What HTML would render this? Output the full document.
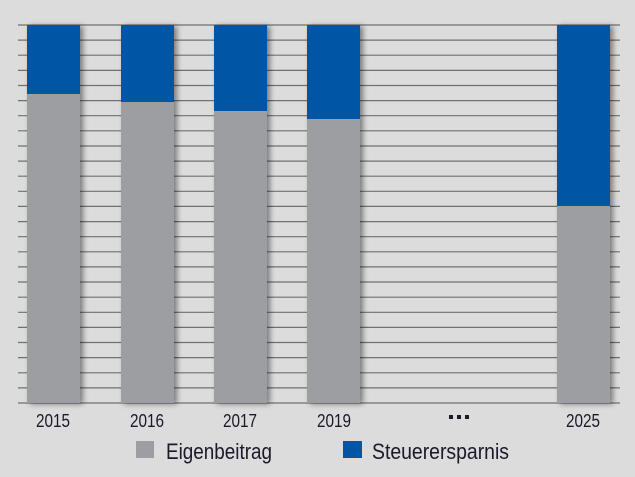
<!DOCTYPE html>
<html><head><meta charset="utf-8"><style>
body{margin:0;width:635px;height:477px;background:#dcdcdc;overflow:hidden}
svg{display:block}
text{font-family:"Liberation Sans Narrow","Liberation Sans",sans-serif;fill:#1a1a2a}
</style></head><body>
<svg width="635" height="477" viewBox="0 0 635 477">
<defs><filter id="s" x="-30%" y="-10%" width="160%" height="120%"><feGaussianBlur in="SourceAlpha" stdDeviation="3"/><feOffset dx="3" dy="1"/><feComponentTransfer><feFuncA type="linear" slope="0.45"/></feComponentTransfer><feMerge><feMergeNode/><feMergeNode in="SourceGraphic"/></feMerge></filter></defs>
<rect width="635" height="477" fill="#dcdcdc"/>
<g stroke="#707070" stroke-width="1.2">
<line x1="18" x2="620" y1="25" y2="25"/><line x1="18" x2="620" y1="40.1" y2="40.1"/><line x1="18" x2="620" y1="55.2" y2="55.2"/><line x1="18" x2="620" y1="70.4" y2="70.4"/><line x1="18" x2="620" y1="85.5" y2="85.5"/><line x1="18" x2="620" y1="100.6" y2="100.6"/><line x1="18" x2="620" y1="115.7" y2="115.7"/><line x1="18" x2="620" y1="130.8" y2="130.8"/><line x1="18" x2="620" y1="146" y2="146"/><line x1="18" x2="620" y1="161.1" y2="161.1"/><line x1="18" x2="620" y1="176.2" y2="176.2"/><line x1="18" x2="620" y1="191.3" y2="191.3"/><line x1="18" x2="620" y1="206.4" y2="206.4"/><line x1="18" x2="620" y1="221.6" y2="221.6"/><line x1="18" x2="620" y1="236.7" y2="236.7"/><line x1="18" x2="620" y1="251.8" y2="251.8"/><line x1="18" x2="620" y1="266.9" y2="266.9"/><line x1="18" x2="620" y1="282" y2="282"/><line x1="18" x2="620" y1="297.2" y2="297.2"/><line x1="18" x2="620" y1="312.3" y2="312.3"/><line x1="18" x2="620" y1="327.4" y2="327.4"/><line x1="18" x2="620" y1="342.5" y2="342.5"/><line x1="18" x2="620" y1="357.6" y2="357.6"/><line x1="18" x2="620" y1="372.8" y2="372.8"/><line x1="18" x2="620" y1="387.9" y2="387.9"/><line x1="18" x2="620" y1="403" y2="403"/>
</g>
<g filter="url(#s)">
<rect x="27" y="25" width="53" height="378" fill="#9d9ea2"/><rect x="27" y="25" width="53" height="69" fill="#0055a4"/>
<rect x="121" y="25" width="53" height="378" fill="#9d9ea2"/><rect x="121" y="25" width="53" height="77" fill="#0055a4"/>
<rect x="214" y="25" width="53" height="378" fill="#9d9ea2"/><rect x="214" y="25" width="53" height="86" fill="#0055a4"/>
<rect x="307" y="25" width="53" height="378" fill="#9d9ea2"/><rect x="307" y="25" width="53" height="94" fill="#0055a4"/>
<rect x="557" y="25" width="53" height="378" fill="#9d9ea2"/><rect x="557" y="25" width="53" height="181" fill="#0055a4"/>
</g>
<g font-size="18">
<text x="36" y="427" textLength="34" lengthAdjust="spacingAndGlyphs">2015</text>
<text x="130" y="427" textLength="34" lengthAdjust="spacingAndGlyphs">2016</text>
<text x="223" y="427" textLength="34" lengthAdjust="spacingAndGlyphs">2017</text>
<text x="317" y="427" textLength="34" lengthAdjust="spacingAndGlyphs">2019</text>
<text x="566" y="427" textLength="34" lengthAdjust="spacingAndGlyphs">2025</text>
</g>
<rect x="449" y="415" width="4" height="4" fill="#1a1a2a"/><rect x="457" y="415" width="4" height="4" fill="#1a1a2a"/><rect x="465" y="415" width="4" height="4" fill="#1a1a2a"/>
<rect x="136" y="441" width="18" height="17" fill="#9d9ea2"/>
<text x="166" y="459" font-size="22" textLength="106" lengthAdjust="spacingAndGlyphs">Eigenbeitrag</text>
<rect x="343" y="441" width="19" height="17" fill="#0055a4"/>
<text x="372" y="459" font-size="22" textLength="137" lengthAdjust="spacingAndGlyphs">Steuerersparnis</text>
</svg>
</body></html>
